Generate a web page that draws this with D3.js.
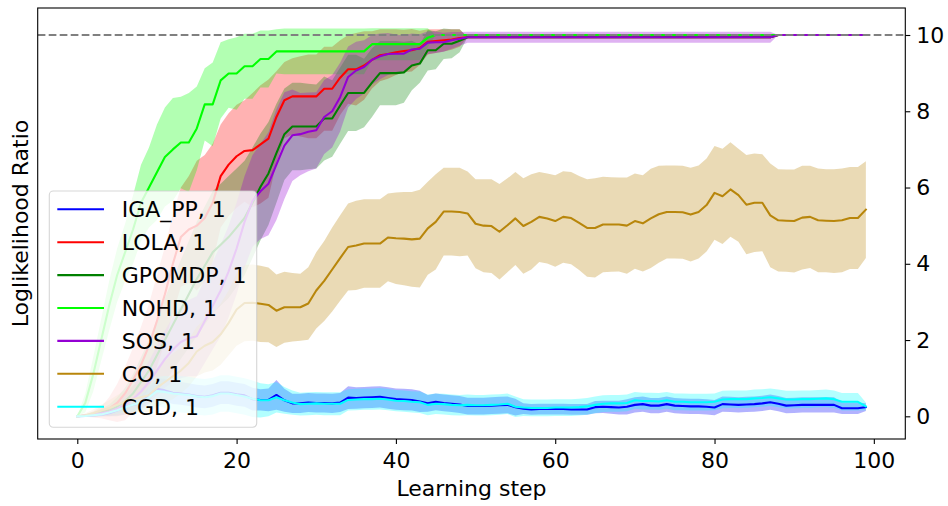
<!DOCTYPE html>
<html>
<head>
<meta charset="utf-8">
<script src="https://cdn.jsdelivr.net/npm/d3@7"></script>
<style>
  body { margin: 0; background: #fff; }
  svg { display: block; }
  text { font-family: "DejaVu Sans", sans-serif; }
</style>
</head>
<body>
<svg id="chart" width="948" height="506"></svg>
<script>
// Learning steps 0..99
const steps = d3.range(100);

const seriesNames = ["IGA_PP, 1", "LOLA, 1", "GPOMDP, 1", "NOHD, 1", "SOS, 1", "CO, 1", "CGD, 1"];
const seriesColors = ["#0000ff", "#ff0000", "#008000", "#00ff00", "#9400d3", "#b8860b", "#00ffff"];

const xTicks = [0, 20, 40, 60, 80, 100];
const yTicks = [0, 2, 4, 6, 8, 10];
const referenceLevel = 10;

// mean and standard deviation per learning step
const igaMean = [
  0, 0.01, 0.02, 0.04, 0.08, 0.15, 0.25, 0.3, 0.35, 0.55,
  0.72, 0.68, 0.62, 0.6, 0.57, 0.53, 0.51, 0.55, 0.62, 0.62,
  0.58, 0.55, 0.45, 0.43, 0.43, 0.56, 0.42, 0.34, 0.34, 0.36,
  0.35, 0.35, 0.34, 0.36, 0.49, 0.48, 0.49, 0.5, 0.51, 0.48,
  0.45, 0.44, 0.43, 0.39, 0.34, 0.38, 0.35, 0.33, 0.31, 0.27,
  0.27, 0.27, 0.28, 0.29, 0.3, 0.24, 0.2, 0.18, 0.19, 0.19,
  0.19, 0.19, 0.18, 0.18, 0.18, 0.24, 0.25, 0.24, 0.23, 0.25,
  0.3, 0.32, 0.28, 0.28, 0.32, 0.28, 0.27, 0.26, 0.26, 0.25,
  0.23, 0.32, 0.31, 0.3, 0.31, 0.32, 0.34, 0.37, 0.33, 0.28,
  0.29, 0.3, 0.3, 0.3, 0.3, 0.3, 0.21, 0.21, 0.21, 0.24
];
const igaStd = [
  0, 0.01, 0.02, 0.03, 0.05, 0.08, 0.12, 0.15, 0.18, 0.22,
  0.28, 0.3, 0.3, 0.3, 0.3, 0.3, 0.3, 0.3, 0.3, 0.3,
  0.3, 0.3, 0.3, 0.28, 0.3, 0.39, 0.3, 0.25, 0.25, 0.25,
  0.25, 0.25, 0.25, 0.25, 0.3, 0.28, 0.28, 0.28, 0.28, 0.28,
  0.28, 0.28, 0.28, 0.28, 0.22, 0.22, 0.22, 0.22, 0.22, 0.22,
  0.22, 0.22, 0.22, 0.22, 0.22, 0.22, 0.14, 0.14, 0.14, 0.14,
  0.14, 0.14, 0.14, 0.14, 0.14, 0.16, 0.16, 0.17, 0.18, 0.2,
  0.2, 0.2, 0.2, 0.2, 0.2, 0.2, 0.2, 0.2, 0.2, 0.2,
  0.2, 0.2, 0.2, 0.2, 0.2, 0.2, 0.2, 0.2, 0.2, 0.2,
  0.2, 0.2, 0.2, 0.2, 0.2, 0.2, 0.15, 0.15, 0.15, 0.1
];

const lolaMean = [
  0, 0.02, 0.05, 0.1, 0.2, 0.35, 0.6, 0.95, 1.35, 1.85,
  2.5, 3.2, 4.0, 4.7, 4.9, 5.0, 5.2, 5.6, 6.3, 6.6,
  6.82, 6.96, 6.98, 7.13, 7.28, 7.85, 8.29, 8.39, 8.39, 8.39,
  8.39, 8.59, 8.59, 8.88, 9.1, 9.1, 9.2, 9.35, 9.47, 9.5,
  9.55, 9.58, 9.6, 9.66, 9.82, 9.84, 9.86, 9.88, 9.92, 9.94,
  9.94, 9.94, 9.94, 9.94, 9.94, 9.94, 9.94, 9.94, 9.94, 9.94,
  9.94, 9.94, 9.94, 9.94, 9.94, 9.94, 9.94, 9.94, 9.94, 9.94,
  9.94, 9.94, 9.94, 9.94, 9.94, 9.94, 9.94, 9.94, 9.94, 9.94,
  9.94, 9.94, 9.94, 9.94, 9.94, 9.94, 9.94, 9.94, 10, 10,
  10, 10, 10, 10, 10, 10, 10, 10, 10, 10
];
const lolaStd = [
  0, 0.03, 0.08, 0.15, 0.3, 0.5, 0.7, 0.85, 1.0, 1.1,
  1.2, 1.25, 1.3, 1.3, 1.4, 1.7, 1.65, 1.55, 1.35, 1.35,
  1.35, 1.33, 1.5, 1.55, 1.55, 1.2, 1.0, 1.0, 1.05, 1.1,
  1.1, 1.1, 1.1, 0.98, 0.9, 0.95, 0.9, 0.75, 0.68, 0.65,
  0.6, 0.56, 0.56, 0.45, 0.33, 0.31, 0.29, 0.27, 0.23, 0,
  0, 0, 0, 0, 0, 0, 0, 0, 0, 0,
  0, 0, 0, 0, 0, 0, 0, 0, 0, 0,
  0, 0, 0, 0, 0, 0, 0, 0, 0, 0,
  0, 0, 0, 0, 0, 0, 0, 0, 0, 0,
  0, 0, 0, 0, 0, 0, 0, 0, 0, 0
];

const gpomdpMean = [
  0, 0.02, 0.05, 0.1, 0.15, 0.25, 0.4, 0.6, 0.9, 1.2,
  1.6, 2.0, 2.4, 2.8, 3.2, 3.6, 3.95, 4.3, 4.5, 4.7,
  4.95, 5.2, 5.6, 6.02, 6.37, 6.9, 7.4, 7.6, 7.6, 7.6,
  7.6, 7.81, 7.81, 8.15, 8.48, 8.48, 8.48, 8.75, 9.0, 9.0,
  9.0, 9.02, 9.2, 9.25, 9.6, 9.6, 9.77, 9.77, 9.85, 9.94,
  9.94, 9.94, 9.94, 9.94, 9.94, 9.94, 9.94, 9.94, 9.94, 9.94,
  9.94, 9.94, 9.94, 9.94, 9.94, 9.94, 9.94, 9.94, 9.94, 9.94,
  9.94, 9.94, 9.94, 9.94, 9.94, 9.94, 9.94, 9.94, 9.94, 9.94,
  9.94, 9.94, 9.94, 9.94, 9.94, 9.94, 9.94, 9.94, 10, 10,
  10, 10, 10, 10, 10, 10, 10, 10, 10, 10
];
const gpomdpStd = [
  0, 0.03, 0.06, 0.1, 0.15, 0.25, 0.35, 0.5, 0.65, 0.8,
  0.95, 1.1, 1.2, 1.3, 1.4, 1.5, 1.55, 1.6, 1.6, 1.6,
  1.55, 1.5, 1.45, 1.4, 1.35, 1.3, 1.2, 1.15, 1.15, 1.12,
  1.1, 1.1, 1.0, 1.0, 1.0, 1.0, 0.9, 0.9, 0.84, 0.84,
  0.84, 0.8, 0.65, 0.5, 0.53, 0.5, 0.4, 0.38, 0.3, 0,
  0, 0, 0, 0, 0, 0, 0, 0, 0, 0,
  0, 0, 0, 0, 0, 0, 0, 0, 0, 0,
  0, 0, 0, 0, 0, 0, 0, 0, 0, 0,
  0, 0, 0, 0, 0, 0, 0, 0, 0, 0,
  0, 0, 0, 0, 0, 0, 0, 0, 0, 0
];

const nohdMean = [
  0, 0.35, 1.1, 2.0, 2.9, 3.7, 4.3, 4.9, 5.6, 6.0,
  6.4, 6.8, 7.0, 7.18, 7.18, 7.55, 8.18, 8.18, 8.81, 8.99,
  8.99, 9.18, 9.18, 9.37, 9.37, 9.57, 9.57, 9.57, 9.57, 9.57,
  9.57, 9.57, 9.57, 9.57, 9.57, 9.57, 9.57, 9.76, 9.76, 9.76,
  9.76, 9.76, 9.76, 9.76, 9.93, 10, 10, 10, 10, 10,
  10, 10, 10, 10, 10, 10, 10, 10, 10, 10,
  10, 10, 10, 10, 10, 10, 10, 10, 10, 10,
  10, 10, 10, 10, 10, 10, 10, 10, 10, 10,
  10, 10, 10, 10, 10, 10, 10, 10, 10, 10,
  10, 10, 10, 10, 10, 10, 10, 10, 10, 10
];
const nohdStd = [
  0, 0.25, 0.45, 0.55, 0.65, 0.7, 0.75, 0.9, 1.0, 1.05,
  1.25, 1.3, 1.35, 1.2, 1.3, 1.1, 0.95, 1.1, 1.0, 0.9,
  0.95, 0.85, 0.85, 0.75, 0.75, 0.58, 0.6, 0.6, 0.6, 0.6,
  0.6, 0.6, 0.6, 0.6, 0.6, 0.6, 0.6, 0.42, 0.42, 0.42,
  0.42, 0.42, 0.42, 0.42, 0.25, 0, 0, 0, 0, 0,
  0, 0, 0, 0, 0, 0, 0, 0, 0, 0,
  0, 0, 0, 0, 0, 0, 0, 0, 0, 0,
  0, 0, 0, 0, 0, 0, 0, 0, 0, 0,
  0, 0, 0, 0, 0, 0, 0, 0, 0, 0,
  0, 0, 0, 0, 0, 0, 0, 0, 0, 0
];

const sosMean = [
  0, 0.02, 0.04, 0.08, 0.12, 0.2, 0.3, 0.45, 0.65, 0.9,
  1.2, 1.5, 1.75, 1.95, 2.05, 2.1, 2.5, 2.9, 3.3, 3.8,
  4.4, 5.1, 5.65, 5.9, 6.1, 6.6, 7.1, 7.37, 7.4, 7.46,
  7.5, 7.85, 8.0, 8.37, 8.9, 9.07, 9.16, 9.35, 9.44, 9.5,
  9.51, 9.51, 9.62, 9.64, 9.8, 9.81, 9.81, 9.86, 9.9, 9.94,
  9.94, 9.94, 9.94, 9.94, 9.94, 9.94, 9.94, 9.94, 9.94, 9.94,
  9.94, 9.94, 9.94, 9.94, 9.94, 9.94, 9.94, 9.94, 9.94, 9.94,
  9.94, 9.94, 9.94, 9.94, 9.94, 9.94, 9.94, 9.94, 9.94, 9.94,
  9.94, 9.94, 9.94, 9.94, 9.94, 9.94, 9.94, 9.94, 10, 10,
  10, 10, 10, 10, 10, 10, 10, 10, 10, 10
];
const sosStd = [
  0, 0.02, 0.05, 0.08, 0.12, 0.18, 0.25, 0.35, 0.45, 0.55,
  0.65, 0.75, 0.85, 0.95, 1.0, 1.05, 1.1, 1.15, 1.2, 1.2,
  1.2, 1.2, 1.2, 1.25, 1.35, 1.45, 1.4, 1.2, 1.08, 1.03,
  1.0, 0.97, 0.95, 0.9, 0.8, 0.75, 0.7, 0.65, 0.6, 0.55,
  0.5, 0.48, 0.42, 0.38, 0.3, 0.28, 0.25, 0.22, 0.18, 0.145,
  0.145, 0.145, 0.145, 0.145, 0.145, 0.145, 0.145, 0.145, 0.145, 0.145,
  0.145, 0.145, 0.145, 0.145, 0.145, 0.145, 0.145, 0.145, 0.145, 0.145,
  0.145, 0.145, 0.145, 0.145, 0.145, 0.145, 0.145, 0.145, 0.145, 0.145,
  0.145, 0.145, 0.145, 0.145, 0.145, 0.145, 0.145, 0.145, 0, 0,
  0, 0, 0, 0, 0, 0, 0, 0, 0, 0
];

const coMean = [
  0, 0.03, 0.08, 0.15, 0.22, 0.3, 0.38, 0.45, 0.5, 0.55,
  0.75, 0.9, 1.05, 1.2, 1.4, 1.7, 1.85, 1.95, 2.15, 2.45,
  2.8, 2.97, 2.98, 2.95, 2.92, 2.77, 2.86, 2.86, 2.86, 2.96,
  3.3, 3.55, 3.85, 4.15, 4.44, 4.48, 4.53, 4.53, 4.53, 4.69,
  4.67, 4.66, 4.64, 4.66, 4.93, 5.1, 5.37, 5.37, 5.36, 5.32,
  5.05, 5.0, 4.99, 4.84, 5.01, 5.19, 4.99, 5.1, 5.23, 5.19,
  5.12, 5.23, 5.2, 5.07, 4.94, 4.94, 5.03, 5.03, 5.03, 5.0,
  5.12, 5.06, 5.19, 5.3, 5.36, 5.36, 5.35, 5.29, 5.36, 5.54,
  5.86, 5.77, 5.95, 5.8, 5.55, 5.6, 5.6, 5.27, 5.14, 5.13,
  5.12, 5.21, 5.23, 5.14, 5.13, 5.12, 5.14, 5.2, 5.2, 5.42
];
const coStd = [
  0, 0.05, 0.1, 0.15, 0.2, 0.25, 0.3, 0.35, 0.4, 0.45,
  0.5, 0.55, 0.6, 0.6, 0.62, 0.65, 0.7, 0.75, 0.8, 0.85,
  0.95, 1.0, 1.0, 1.0, 0.98, 0.95, 0.93, 0.9, 0.88, 0.95,
  1.0, 1.05, 1.1, 1.12, 1.14, 1.17, 1.16, 1.16, 1.16, 1.15,
  1.2, 1.22, 1.24, 1.28, 1.22, 1.25, 1.15, 1.15, 1.16, 1.1,
  1.17, 1.22, 1.23, 1.25, 1.23, 1.22, 1.25, 1.25, 1.18, 1.18,
  1.2, 1.2, 1.21, 1.23, 1.28, 1.3, 1.25, 1.24, 1.23, 1.26,
  1.25, 1.26, 1.3, 1.27, 1.22, 1.22, 1.22, 1.23, 1.22, 1.22,
  1.23, 1.25, 1.24, 1.22, 1.3, 1.29, 1.27, 1.36, 1.34, 1.34,
  1.35, 1.36, 1.34, 1.36, 1.35, 1.36, 1.36, 1.34, 1.34, 1.27
];

const cgdMean = [
  0, 0.01, 0.03, 0.05, 0.1, 0.16, 0.24, 0.3, 0.36, 0.5,
  0.66, 0.64, 0.6, 0.58, 0.56, 0.52, 0.5, 0.53, 0.6, 0.6,
  0.56, 0.52, 0.46, 0.42, 0.42, 0.5, 0.42, 0.36, 0.32, 0.33,
  0.34, 0.33, 0.33, 0.33, 0.43, 0.44, 0.45, 0.45, 0.46, 0.44,
  0.41, 0.4, 0.38, 0.37, 0.3, 0.33, 0.32, 0.3, 0.29, 0.3,
  0.29, 0.29, 0.3, 0.31, 0.33, 0.25, 0.23, 0.22, 0.22, 0.22,
  0.23, 0.23, 0.23, 0.24, 0.26, 0.3, 0.33, 0.34, 0.34, 0.35,
  0.42, 0.4, 0.4, 0.39, 0.42, 0.38, 0.38, 0.37, 0.37, 0.37,
  0.38, 0.44, 0.45, 0.45, 0.45, 0.47, 0.48, 0.5, 0.47, 0.44,
  0.44, 0.45, 0.45, 0.46, 0.47, 0.45, 0.38, 0.38, 0.38, 0.26
];
const cgdStd = [
  0, 0.01, 0.02, 0.04, 0.06, 0.1, 0.14, 0.18, 0.22, 0.3,
  0.38, 0.42, 0.45, 0.48, 0.48, 0.48, 0.48, 0.48, 0.48, 0.48,
  0.48, 0.48, 0.48, 0.45, 0.42, 0.4, 0.35, 0.32, 0.3, 0.3,
  0.3, 0.3, 0.3, 0.3, 0.28, 0.28, 0.28, 0.28, 0.28, 0.28,
  0.28, 0.28, 0.28, 0.28, 0.27, 0.27, 0.27, 0.27, 0.27, 0.27,
  0.27, 0.27, 0.27, 0.27, 0.27, 0.27, 0.22, 0.22, 0.22, 0.22,
  0.22, 0.22, 0.22, 0.22, 0.22, 0.22, 0.22, 0.22, 0.22, 0.22,
  0.22, 0.22, 0.22, 0.22, 0.22, 0.22, 0.22, 0.22, 0.22, 0.22,
  0.22, 0.23, 0.23, 0.23, 0.23, 0.23, 0.23, 0.23, 0.23, 0.23,
  0.23, 0.23, 0.23, 0.23, 0.23, 0.23, 0.23, 0.23, 0.23, 0.1
];

const means = [igaMean, lolaMean, gpomdpMean, nohdMean, sosMean, coMean, cgdMean];
const stds  = [igaStd, lolaStd, gpomdpStd, nohdStd, sosStd, coStd, cgdStd];

const series = seriesNames.map((name, k) => ({
  name,
  color: seriesColors[k],
  points: steps.map(i => ({ step: i, mean: means[k][i], std: stds[k][i] }))
}));

// ---- layout ----
const plot = { left: 37.7, right: 905.3, top: 8, bottom: 439 };
const fontSize = 22;
const lineW = 2.08;

const svg = d3.select("#chart");

const x = d3.scaleLinear().domain([-4.97, 103.95]).range([plot.left, plot.right]);
const y = d3.scaleLinear().domain([-0.595, 10.708]).range([plot.bottom, plot.top]);

svg.append("defs").append("clipPath").attr("id", "plot-clip")
  .append("rect")
  .attr("x", plot.left).attr("y", plot.top)
  .attr("width", plot.right - plot.left).attr("height", plot.bottom - plot.top);

const body = svg.append("g").attr("clip-path", "url(#plot-clip)");

// shaded mean ± std bands, all beneath the lines
const area = d3.area()
  .x(d => x(d.step))
  .y0(d => y(d.mean - d.std))
  .y1(d => y(d.mean + d.std));

body.selectAll("path.band")
  .data(series)
  .join("path")
  .attr("class", "band")
  .attr("d", d => area(d.points))
  .attr("fill", d => d.color)
  .attr("fill-opacity", 0.3)
  .attr("stroke", "none");

// mean curves
const line = d3.line()
  .x(d => x(d.step))
  .y(d => y(d.mean));

body.selectAll("path.mean")
  .data(series)
  .join("path")
  .attr("class", "mean")
  .attr("d", d => line(d.points))
  .attr("fill", "none")
  .attr("stroke", d => d.color)
  .attr("stroke-width", lineW)
  .attr("stroke-linejoin", "round")
  .attr("stroke-linecap", "square");

// reference level
body.append("line")
  .attr("x1", plot.left).attr("x2", plot.right)
  .attr("y1", y(referenceLevel)).attr("y2", y(referenceLevel))
  .attr("stroke", "#808080")
  .attr("stroke-width", lineW)
  .attr("stroke-dasharray", "7.7,3.3");

// ---- axes ----
const xAxis = d3.axisBottom(x).tickValues(xTicks).tickSize(5).tickPadding(8).tickFormat(d3.format("d"));
const gx = svg.append("g").attr("transform", `translate(0,${plot.bottom})`).call(xAxis);

const yAxis = d3.axisRight(y).tickValues(yTicks).tickSize(5).tickPadding(6).tickFormat(d3.format("d"));
const gy = svg.append("g").attr("transform", `translate(${plot.right},0)`).call(yAxis);

[gx, gy].forEach(g => {
  g.select(".domain").remove();
  g.selectAll(".tick line").attr("stroke", "#000").attr("stroke-width", 1.1);
  g.selectAll(".tick text")
    .attr("fill", "#000")
    .style("font-family", "'DejaVu Sans', sans-serif")
    .style("font-size", fontSize + "px");
});

// frame
svg.append("rect")
  .attr("x", plot.left).attr("y", plot.top)
  .attr("width", plot.right - plot.left).attr("height", plot.bottom - plot.top)
  .attr("fill", "none")
  .attr("stroke", "#000")
  .attr("stroke-width", 1.1);

// axis titles
svg.append("text")
  .attr("x", (plot.left + plot.right) / 2)
  .attr("y", 496)
  .attr("text-anchor", "middle")
  .style("font-size", fontSize + "px")
  .text("Learning step");

svg.append("text")
  .attr("transform", `translate(27.5,${(plot.top + plot.bottom) / 2}) rotate(-90)`)
  .attr("text-anchor", "middle")
  .style("font-size", fontSize + "px")
  .text("Loglikelihood Ratio");

// ---- legend ----
const legend = svg.append("g");
legend.append("rect")
  .attr("x", 49.3).attr("y", 191)
  .attr("width", 207.4).attr("height", 236.3)
  .attr("rx", 4).attr("ry", 4)
  .attr("fill", "#fff").attr("fill-opacity", 0.8)
  .attr("stroke", "#cccccc").attr("stroke-opacity", 0.8)
  .attr("stroke-width", 1.1);

const entry = legend.selectAll("g.entry")
  .data(series)
  .join("g")
  .attr("class", "entry")
  .attr("transform", (d, k) => `translate(0,${209.3 + k * 32.9})`);

entry.append("line")
  .attr("x1", 57.3).attr("x2", 104)
  .attr("y1", 0).attr("y2", 0)
  .attr("stroke", d => d.color)
  .attr("stroke-width", lineW);

entry.append("text")
  .attr("x", 121.7)
  .attr("y", 8)
  .style("font-size", fontSize + "px")
  .text(d => d.name);
</script>
</body>
</html>
